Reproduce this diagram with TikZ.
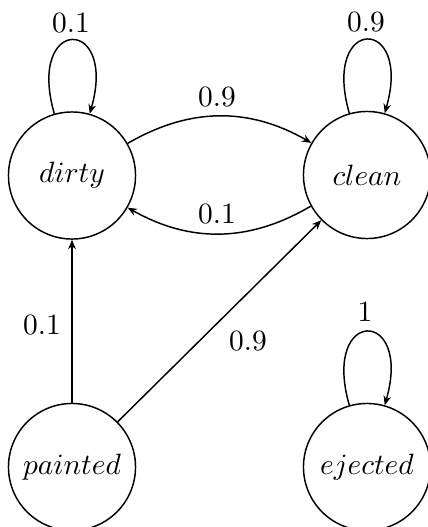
\documentclass[tikz,border=0pt]{standalone}
\usetikzlibrary{arrows.meta}
\begin{document}
\begin{tikzpicture}[x=0.34pt,y=-0.34pt, line width=0.5pt,
  >={Stealth[length=3.2pt,width=2.6pt]},
  state/.style={circle,draw,minimum size=43.2pt,inner sep=0pt},
  lbl/.style={inner sep=0pt}]
\useasboundingbox (0,0) rectangle (427,527);
\node[state] (dirty) at (72,175.5) {$dirty$};
\node[state] (clean) at (367,175) {$clean$};
\node[state] (painted) at (72,467) {$painted$};
\node[state] (ejected) at (367,467) {$ejected$};
% self loops
\draw[->] (dirty.106) .. controls +(106:34.7pt) and +(74:34.7pt) .. (dirty.74);
\draw[->] (clean.106) .. controls +(106:34.7pt) and +(74:34.7pt) .. (clean.74);
\draw[->] (ejected.106) .. controls +(106:34.7pt) and +(74:34.7pt) .. (ejected.74);
% arcs
\draw[->] (dirty.30) to[bend left=30] (clean.150);
\draw[->] (clean.209) to[bend left=30] (dirty.330);
\draw[->] (painted) -- (dirty);
\draw[->] (painted) -- (clean);
% labels
\node[lbl] (ld) at (71,23) {0.1};
\node[lbl] (lc) at (366,22) {0.9};
\node[lbl] (le) at (365,312) {1};
\node[lbl] (ldc) at (217,97) {0.9};
\node[lbl] (lcd) at (217,214) {0.1};
\node[lbl] (lpd) at (42,325) {0.1};
\node[lbl] (lpc) at (248,341) {0.9};
\end{tikzpicture}
\end{document}
